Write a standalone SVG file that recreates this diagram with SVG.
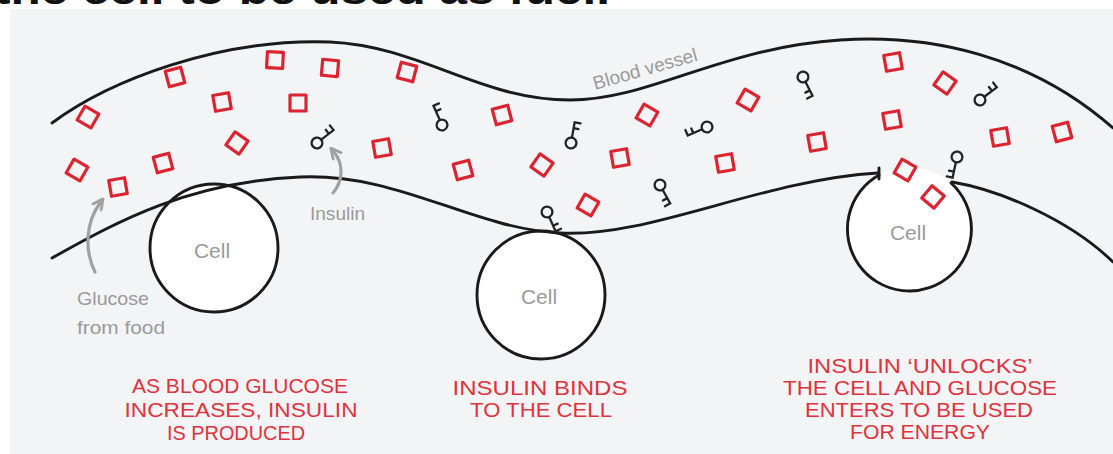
<svg xmlns="http://www.w3.org/2000/svg" xmlns:xlink="http://www.w3.org/1999/xlink" width="1113" height="454" viewBox="0 0 1113 454">
  <style>
    .wall { fill: none; stroke: #1a1a1a; stroke-width: 2.9; stroke-linecap: round; }
    .cell { fill: #ffffff; stroke: #1a1a1a; stroke-width: 2.9; }
    .cellfill { fill: #ffffff; stroke: none; }
    .glucose { fill: none; stroke: #dc2430; stroke-width: 3.2; stroke-linejoin: round; }
    .key { fill: none; stroke: #222; stroke-width: 2.3; stroke-linecap: round; }
    .note { font-family: "Liberation Sans", Arial, sans-serif; fill: #9a9a9a; }
    .caption { font-family: "Liberation Sans", Arial, sans-serif; fill: #e0323c; font-size: 21px; text-anchor: middle; }
    .pointer { fill: none; stroke: #a0a0a0; stroke-width: 3.2; stroke-linecap: round; }
  </style>
  <defs>
    <!-- glucose molecule: small square outline -->
    <rect id="sq" x="-8" y="-8" width="16" height="16"/>
    <!-- insulin: ring at origin, shaft pointing up, teeth to the right -->
    <g id="key">
      <circle cx="0" cy="0" r="5.4"/>
      <path d="M0,-5.4 V-21 H6 M0,-15 H5"/>
    </g>
    <marker id="ah" viewBox="0 0 10 10" refX="5" refY="5" markerWidth="4" markerHeight="4" orient="auto-start-reverse">
      <path d="M1,1 L9,5 L1,9" fill="none" stroke="#a0a0a0" stroke-width="2.2" stroke-linecap="round" stroke-linejoin="round"/>
    </marker>
  </defs>

  <rect x="0" y="0" width="1113" height="454" fill="#ffffff"/>
  <!-- heading above the panel, cropped by the top edge -->
  <text x="-6" y="4" font-family="Liberation Sans, Arial, sans-serif" font-weight="bold" font-size="40" fill="#111" textLength="616" lengthAdjust="spacingAndGlyphs">the cell to be used as fuel.</text>
  <rect x="10" y="9" width="1103" height="445" fill="#f3f4f6"/>

  <!-- cells -->
  <g id="cell1">
    <circle class="cell" cx="214" cy="248" r="64"/>
    <text class="note" x="212" y="258" font-size="21" text-anchor="middle">Cell</text>
  </g>
  <g id="cell2">
    <circle class="cell" cx="541" cy="295" r="64"/>
    <text class="note" x="539" y="304" font-size="21" text-anchor="middle">Cell</text>
  </g>
  <g id="cell3">
    <circle class="cellfill" cx="909" cy="229" r="62"/>
    <path class="wall" d="M951,183 A62,62 0 1 1 879,175"/>
    <text class="note" x="908" y="240" font-size="21" text-anchor="middle">Cell</text>
  </g>

  <!-- blood vessel walls -->
  <g id="vessel">
    <path class="wall" d="M52,123 C110,80 220,38 330,42 C420,46 480,100 570,100 C650,100 720,48 840,40 C930,34 1030,55 1113,128"/>
    <path class="wall" d="M52,258 C120,220 190,182 300,177 C400,173 470,228 560,233 C650,238 760,180 878,173"/>
    <path class="wall" d="M879,168 L879,179"/>
    <path class="wall" d="M952,182 C1000,190 1070,220 1113,262"/>
    <text class="note" x="595" y="90" font-size="19" transform="rotate(-16 595 90)">Blood vessel</text>
  </g>

  <!-- glucose -->
  <g id="glucose" class="glucose">
    <use xlink:href="#sq" transform="translate(88,117) rotate(30)"/>
    <use xlink:href="#sq" transform="translate(77,170) rotate(30)"/>
    <use xlink:href="#sq" transform="translate(118,187) rotate(-10)"/>
    <use xlink:href="#sq" transform="translate(163,163) rotate(-15)"/>
    <use xlink:href="#sq" transform="translate(175,77) rotate(-15)"/>
    <use xlink:href="#sq" transform="translate(222,102) rotate(-10)"/>
    <use xlink:href="#sq" transform="translate(237,143) rotate(35)"/>
    <use xlink:href="#sq" transform="translate(275,60) rotate(3)"/>
    <use xlink:href="#sq" transform="translate(298,103) rotate(0)"/>
    <use xlink:href="#sq" transform="translate(330,68) rotate(5)"/>
    <use xlink:href="#sq" transform="translate(382,148) rotate(-10)"/>
    <use xlink:href="#sq" transform="translate(407,72) rotate(15)"/>
    <use xlink:href="#sq" transform="translate(463,170) rotate(-15)"/>
    <use xlink:href="#sq" transform="translate(502,115) rotate(-15)"/>
    <use xlink:href="#sq" transform="translate(542,165) rotate(35)"/>
    <use xlink:href="#sq" transform="translate(588,205) rotate(30)"/>
    <use xlink:href="#sq" transform="translate(620,158) rotate(-10)"/>
    <use xlink:href="#sq" transform="translate(647,115) rotate(30)"/>
    <use xlink:href="#sq" transform="translate(725,163) rotate(-10)"/>
    <use xlink:href="#sq" transform="translate(748,100) rotate(30)"/>
    <use xlink:href="#sq" transform="translate(817,142) rotate(-10)"/>
    <use xlink:href="#sq" transform="translate(893,62) rotate(-10)"/>
    <use xlink:href="#sq" transform="translate(945,83) rotate(35)"/>
    <use xlink:href="#sq" transform="translate(892,120) rotate(-10)"/>
    <use xlink:href="#sq" transform="translate(905,170) rotate(30)"/>
    <use xlink:href="#sq" transform="translate(933,197) rotate(40)"/>
    <use xlink:href="#sq" transform="translate(1000,137) rotate(-10)"/>
    <use xlink:href="#sq" transform="translate(1062,132) rotate(-15)"/>
  </g>

  <!-- insulin -->
  <g id="insulin" class="key">
    <use xlink:href="#key" transform="translate(317,143) rotate(52) scale(-1,1)"/>
    <use xlink:href="#key" transform="translate(442,125) rotate(-24)"/>
    <use xlink:href="#key" transform="translate(571,143) rotate(10)"/>
    <use xlink:href="#key" transform="translate(707,127) rotate(246)"/>
    <use xlink:href="#key" transform="translate(660,185) rotate(151)"/>
    <use xlink:href="#key" transform="translate(547,212) rotate(156) scale(-1,1)"/>
    <use xlink:href="#key" transform="translate(803,77) rotate(153)"/>
    <use xlink:href="#key" transform="translate(980,100) rotate(53) scale(-1,1)"/>
    <use xlink:href="#key" transform="translate(957,157) rotate(192)"/>
  </g>

  <!-- pointers and their labels -->
  <g id="connectors">
    <path class="pointer" d="M95,272 C84,250 86,222 100,203" marker-end="url(#ah)"/>
    <path class="pointer" d="M333,193 C344,180 343,163 334,152" marker-end="url(#ah)"/>
  </g>
  <g id="glucose-label">
    <text class="note" x="77" y="305" font-size="19" textLength="72" lengthAdjust="spacingAndGlyphs">Glucose</text>
    <text class="note" x="77" y="334" font-size="19" textLength="88" lengthAdjust="spacingAndGlyphs">from food</text>
  </g>
  <g id="insulin-label">
    <text class="note" x="310" y="220" font-size="18" textLength="55" lengthAdjust="spacingAndGlyphs">Insulin</text>
  </g>

  <!-- captions -->
  <g id="caption1" class="caption">
    <text x="240" y="393" textLength="216" lengthAdjust="spacingAndGlyphs">AS BLOOD GLUCOSE</text>
    <text x="241" y="417" textLength="233" lengthAdjust="spacingAndGlyphs">INCREASES, INSULIN</text>
    <text x="236" y="440" textLength="138" lengthAdjust="spacingAndGlyphs">IS PRODUCED</text>
  </g>
  <g id="caption2" class="caption">
    <text x="540" y="395" textLength="175" lengthAdjust="spacingAndGlyphs">INSULIN BINDS</text>
    <text x="541" y="417" textLength="142" lengthAdjust="spacingAndGlyphs">TO THE CELL</text>
  </g>
  <g id="caption3" class="caption">
    <text x="920" y="373" textLength="225" lengthAdjust="spacingAndGlyphs">INSULIN ‘UNLOCKS’</text>
    <text x="920" y="395" textLength="274" lengthAdjust="spacingAndGlyphs">THE CELL AND GLUCOSE</text>
    <text x="919" y="417" textLength="228" lengthAdjust="spacingAndGlyphs">ENTERS TO BE USED</text>
    <text x="920" y="439" textLength="140" lengthAdjust="spacingAndGlyphs">FOR ENERGY</text>
  </g>
</svg>
